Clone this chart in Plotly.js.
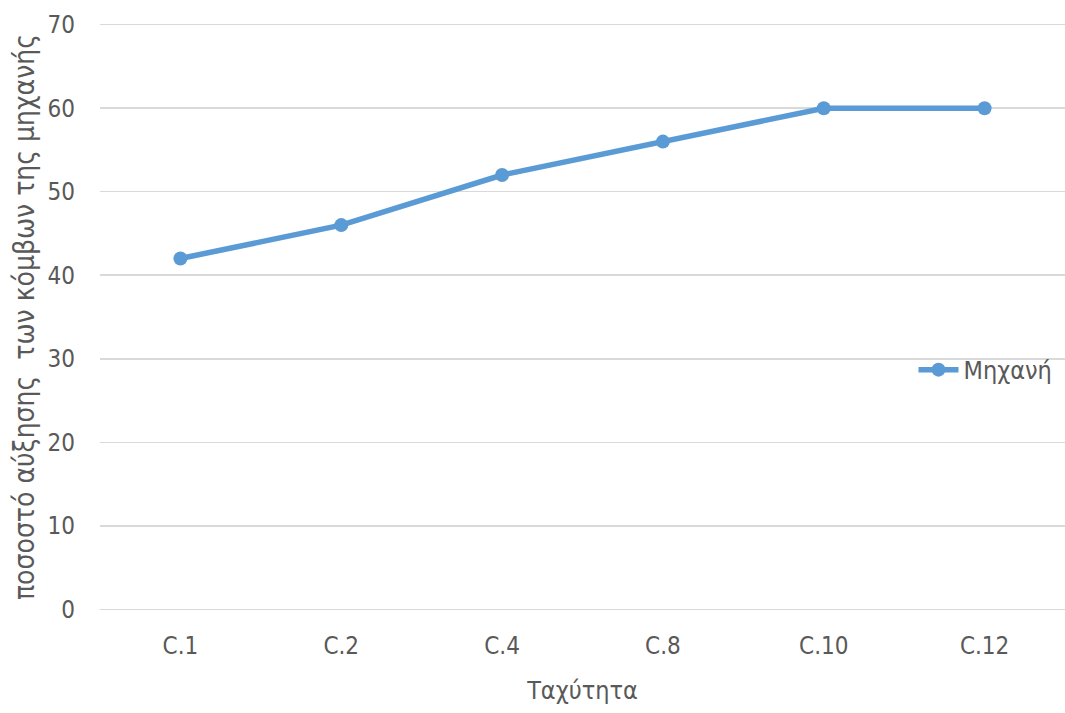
<!DOCTYPE html>
<html>
<head>
<meta charset="utf-8">
<script src="https://cdn.plot.ly/plotly-3.0.1.min.js"></script>
<style>
  html, body { margin: 0; padding: 0; background: #fff; }
  #chart { width: 1065px; height: 713px; }
</style>
</head>
<body>
<div id="chart"></div>
<script>
// Percentage increase of the machine's nodes per speed setting
const categories = ["C.1", "C.2", "C.4", "C.8", "C.10", "C.12"];
const machineValues = [42, 46, 52, 56, 60, 60];
const seriesName = "Μηχανή";
const xTitle = "Ταχύτητα";
const yTitle = "ποσοστό αύξησης  των κόμβων της μηχανής";
const yTicks = [0, 10, 20, 30, 40, 50, 60, 70];

const fontFamily = "'DejaVu Sans Condensed', 'DejaVu Sans', sans-serif";
const textGray = "#595959";
const gridGray = "#d9d9d9";

const trace = {
  type: "scatter",
  mode: "lines+markers",
  name: seriesName,
  x: categories,
  y: machineValues,
  line: { color: "#5b9bd5", width: 5.5 },
  marker: { color: "#5b9bd5", size: 14 }
};

const layout = {
  width: 1065,
  height: 713,
  margin: { l: 100, r: 0, t: 22.5, b: 101.5 },
  paper_bgcolor: "#fff",
  plot_bgcolor: "#fff",
  font: { family: fontFamily, color: textGray, size: 24 },
  showlegend: true,
  legend: {
    x: 0.843, xanchor: "left",
    y: 0.41, yanchor: "middle",
    bgcolor: "rgba(0,0,0,0)",
    itemwidth: 40,
    font: { family: fontFamily, size: 25, color: textGray }
  },
  xaxis: {
    type: "category",
    range: [-0.5, 5.5],
    showgrid: false,
    zeroline: false,
    showline: false,
    ticks: "",
    ticklabelstandoff: 18,
    tickfont: { family: fontFamily, size: 24, color: textGray },
    title: { text: xTitle, font: { family: fontFamily, size: 25, color: textGray }, standoff: 22 }
  },
  yaxis: {
    range: [-0.2, 70.2],
    tickvals: yTicks,
    showgrid: true,
    gridcolor: gridGray,
    gridwidth: 1.5,
    zeroline: true,
    zerolinecolor: gridGray,
    zerolinewidth: 1.5,
    showline: false,
    ticks: "",
    ticklabelstandoff: 24,
    tickfont: { family: fontFamily, size: 24, color: textGray },
    title: { text: yTitle, font: { family: fontFamily, size: 28, color: textGray }, standoff: 4 }
  }
};

Plotly.newPlot("chart", [trace], layout, { displayModeBar: false, staticPlot: true });
</script>
</body>
</html>
